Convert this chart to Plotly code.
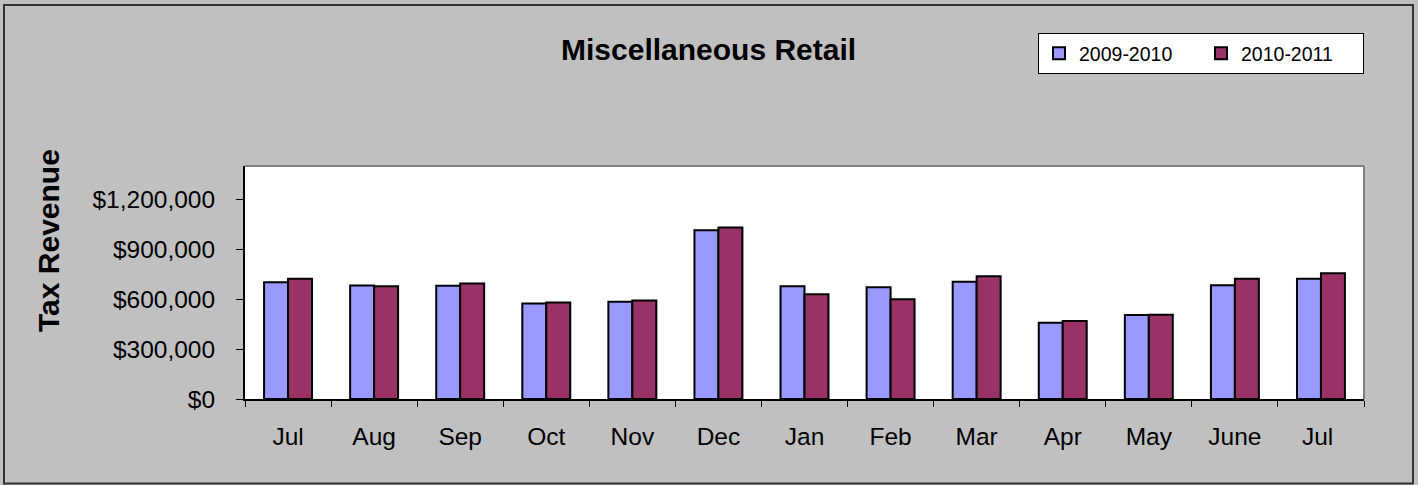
import plotly.graph_objects as go

months = ["Jul", "Aug", "Sep", "Oct", "Nov", "Dec", "Jan", "Feb", "Mar", "Apr", "May", "June", "Jul "]
rev_2009_2010 = [702000, 682000, 680000, 574000, 584000, 1014000, 678000, 672000, 704000, 458000, 504000, 684000, 722000]
rev_2010_2011 = [722000, 678000, 694000, 580000, 592000, 1030000, 630000, 600000, 738000, 468000, 506000, 722000, 756000]
series_names = ["2009-2010", "2010-2011"]
y_ticks = [0, 300000, 600000, 900000, 1200000]
y_tick_text = ["$" + format(v, ",") for v in y_ticks]

W, H = 1418, 485
L, R, T, B = 245, 1364, 166, 399  # plot area in pixels
pw, ph = R - L, B - T

def px(x):
    return (x - L) / pw

def py(y):
    return (B - y) / ph

FONT = "Liberation Sans, Arial, sans-serif"

fig = go.Figure()
fig.add_trace(go.Bar(x=months, y=rev_2009_2010, name=series_names[0],
                     marker=dict(color="#9999FF", line=dict(color="#000000", width=2))))
fig.add_trace(go.Bar(x=months, y=rev_2010_2011, name=series_names[1],
                     marker=dict(color="#993366", line=dict(color="#000000", width=2))))

fig.update_layout(
    width=W, height=H,
    margin=dict(l=L, r=W - R, t=T, b=H - B, pad=0, autoexpand=False),
    paper_bgcolor="#C0C0C0",
    plot_bgcolor="#FFFFFF",
    barmode="group", bargap=0.443, bargroupgap=0,
    font=dict(family=FONT, color="#000000"),
    showlegend=True,
    legend=dict(orientation="h", x=px(1038), y=py(33), xanchor="left", yanchor="top",
                bgcolor="#FFFFFF", bordercolor="#000000", borderwidth=1,
                font=dict(size=19.5, family=FONT), entrywidth=117, entrywidthmode="pixels",
                itemwidth=30, tracegroupgap=0),
    annotations=[
        dict(text="<b>Miscellaneous Retail</b>", x=px(708), y=py(50), xref="paper", yref="paper",
             xanchor="center", yanchor="middle", showarrow=False, font=dict(size=30, family=FONT)),
        dict(text="<b>Tax Revenue</b>", x=px(48), y=py(241), xref="paper", yref="paper",
             xanchor="center", yanchor="middle", textangle=-90, showarrow=False,
             font=dict(size=30, family=FONT)),
    ],
    shapes=[
        dict(type="rect", xref="paper", yref="paper", x0=px(4), x1=px(1413), y0=py(483.5), y1=py(5),
             line=dict(color="#333333", width=2), fillcolor="rgba(0,0,0,0)", layer="below"),
        dict(type="line", xref="paper", yref="paper", x0=0, x1=1, y0=1, y1=1,
             line=dict(color="#808080", width=2)),
        dict(type="line", xref="paper", yref="paper", x0=1, x1=1, y0=0, y1=1,
             line=dict(color="#808080", width=2)),
    ],
)

fig.update_xaxes(showline=True, linecolor="#000000", linewidth=2, ticks="outside", ticklen=6,
                 tickcolor="#000000", tickson="boundaries", tickfont=dict(size=24.5, family=FONT),
                 ticklabelstandoff=15, showgrid=False, zeroline=False)
fig.update_yaxes(range=[0, 1400000], tickmode="array", tickvals=y_ticks, ticktext=y_tick_text,
                 showline=True, linecolor="#000000", linewidth=2, ticks="outside", ticklen=7,
                 tickcolor="#000000", tickfont=dict(size=24.5, family=FONT), ticklabelstandoff=16,
                 showgrid=False, zeroline=False)

fig.write_html("out.html", config={"displayModeBar": False},
               post_script="document.body.style.margin='0';")
